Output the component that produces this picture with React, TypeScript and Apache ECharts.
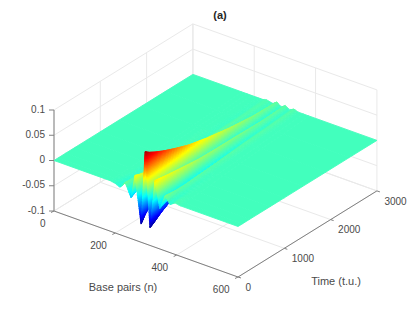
import React, { useEffect, useRef } from "react";
import * as echarts from "echarts";

const baseTicks = [0, 200, 400, 600];
const timeTicks = [0, 1000, 2000, 3000];
const ampTicks = [-0.1, -0.05, 0, 0.05, 0.1];
const ampLabels = ["-0.1", "-0.05", "0", "0.05", "0.1"];

// Surface nodes: each column follows one crest or trough of the wave.
const columnBase = [0, 183, 200, 215, 232, 251, 264, 284, 297, 313, 329, 345, 362, 378, 395, 412, 600];
const columnDriftGain = [0, 1, 1, 1, 1, 1, 1, 1, 1, 1.1, 1.2, 1.3, 1.43, 1.5, 1.5, 1.5, 0];
const rowTime = [0, 100, 250, 450, 700, 1000, 1400, 1900, 2400, 3000];
const rowDrift = [0, -1, -2, -3, -5, -8, -11, -15, -18, -23];
const amp0 = [0, 0, -0.002, -0.006, 0.007, -0.019, 0.028, -0.064, 0.082, -0.065, 0.032, -0.02, 0.009, -0.005, 0.002, 0, 0];
const amp100 = [0, 0, -0.001, -0.004, 0.005, -0.014, 0.024, -0.05, 0.075, -0.06, 0.03, -0.016, 0.007, -0.003, 0.001, 0, 0];
const amp250 = [0, 0, 0, -0.003, 0.004, -0.01, 0.02, -0.035, 0.067, -0.05, 0.027, -0.012, 0.005, -0.002, 0, 0, 0];
const amp450 = [0, 0, 0, -0.002, 0.003, -0.007, 0.016, -0.025, 0.058, -0.04, 0.024, -0.01, 0.004, -0.001, 0, 0, 0];
const amp700 = [0, 0, 0, -0.001, 0.002, -0.005, 0.012, -0.017, 0.048, -0.03, 0.02, -0.009, 0.004, -0.001, 0, 0, 0];
const amp1000 = [0, 0, 0, 0, 0.001, -0.003, 0.008, -0.012, 0.037, -0.02, 0.015, -0.008, 0.003, 0, 0, 0, 0];
const amp1400 = [0, 0, 0, 0, 0.001, -0.002, 0.006, -0.008, 0.027, -0.014, 0.012, -0.006, 0.003, 0, 0, 0, 0];
const amp1900 = [0, 0, 0, 0, 0, -0.001, 0.004, -0.005, 0.017, -0.009, 0.009, -0.004, 0.003, 0, 0, 0, 0];
const amp2400 = [0, 0, 0, 0, 0, -0.001, 0.003, -0.003, 0.01, -0.006, 0.006, -0.003, 0.003, 0, 0, 0, 0];
const amp3000 = [0, 0, 0, 0, 0, 0, 0.002, -0.001, 0.005, -0.002, 0.004, -0.002, 0.003, 0, 0, 0, 0];
const ampRows = [amp0, amp100, amp250, amp450, amp700, amp1000, amp1400, amp1900, amp2400, amp3000];

const COLOR_MIN = -0.068;
const COLOR_MAX = 0.0865;
const FONT = "Liberation Sans";
const TEXT_COLOR = "#4a4a4a";
const AXIS_COLOR = "#808080";
const GRID_COLOR = "#e9e9e9";

const screen = (n: number, t: number, z: number) => [
  54 + 0.3067 * n + 0.0463 * t,
  211 + 0.11 * n - 0.0287 * t - (z + 0.1) * 505,
];

const jet = (z: number) => {
  const p = Math.min(1, Math.max(0, (z - COLOR_MIN) / (COLOR_MAX - COLOR_MIN)));
  const ch = (v: number) => Math.round(255 * Math.min(1, Math.max(0, v)));
  return `rgb(${ch(1.5 - Math.abs(4 * p - 3))},${ch(1.5 - Math.abs(4 * p - 2))},${ch(1.5 - Math.abs(4 * p - 1))})`;
};

const nodeBase = (col: number, row: number) => columnBase[col] + columnDriftGain[col] * rowDrift[row];

const cells: number[][] = [];
for (let r = rowTime.length - 2; r >= 0; r--) {
  for (let c = 0; c < columnBase.length - 1; c++) cells.push([c, r]);
}

type Seg = { a: number[]; b: number[]; kind: string };
const segs: Seg[] = [];
const zLo = ampTicks[0];
const zHi = ampTicks[ampTicks.length - 1];
const nMax = baseTicks[baseTicks.length - 1];
const tMax = timeTicks[timeTicks.length - 1];
baseTicks.forEach((n) => {
  segs.push({ a: [n, 0, zLo], b: [n, tMax, zLo], kind: "grid" });
  segs.push({ a: [n, tMax, zLo], b: [n, tMax, zHi], kind: "grid" });
});
timeTicks.forEach((t) => {
  segs.push({ a: [0, t, zLo], b: [nMax, t, zLo], kind: "grid" });
  segs.push({ a: [0, t, zLo], b: [0, t, zHi], kind: "grid" });
});
ampTicks.forEach((z) => {
  segs.push({ a: [0, 0, z], b: [0, tMax, z], kind: "grid" });
  segs.push({ a: [0, tMax, z], b: [nMax, tMax, z], kind: "grid" });
});
const axisSegs: Seg[] = [
  { a: [0, 0, zLo], b: [nMax, 0, zLo], kind: "axis" },
  { a: [nMax, 0, zLo], b: [nMax, tMax, zLo], kind: "axis" },
  { a: [0, 0, zLo], b: [0, 0, zHi], kind: "axis" },
];
const allSegs = [...segs, ...axisSegs];

type Tick = { p: number[]; dx: number; dy: number; lx: number; ly: number; text: string; align: string };
const ticks: Tick[] = [
  ...baseTicks.map((n) => ({ p: [n, 0, zLo], dx: -3, dy: 1.5, lx: -8.5, ly: 12.5, text: String(n), align: "right" })),
  ...timeTicks.map((t) => ({ p: [nMax, t, zLo], dx: 3, dy: 1, lx: 7.5, ly: 10.3, text: String(t), align: "left" })),
  ...ampTicks.map((z, i) => ({ p: [0, 0, z], dx: -5, dy: 0, lx: -9, ly: -1, text: ampLabels[i], align: "right" })),
];

export default function App() {
  const ref = useRef<HTMLDivElement>(null);
  useEffect(() => {
    const chart = echarts.init(ref.current!, undefined, { renderer: "svg" });
    chart.setOption({
      animation: false,
      title: {
        text: "(a)",
        left: 215,
        top: 4,
        textAlign: "center",
        textStyle: { fontFamily: FONT, fontSize: 11, fontWeight: "bold", color: "#262626" },
      },
      grid: { left: 0, right: 0, top: 0, bottom: 0 },
      xAxis: { type: "value", min: 0, max: 415, show: false },
      yAxis: { type: "value", min: 0, max: 312, inverse: true, show: false },
      series: [
        {
          type: "custom",
          coordinateSystem: "cartesian2d",
          silent: true,
          clip: false,
          data: allSegs.map((_, i) => [i, 0]),
          renderItem: (params: any, api: any) => {
            const s = allSegs[api.value(0)];
            const A = api.coord(screen(s.a[0], s.a[1], s.a[2]));
            const B = api.coord(screen(s.b[0], s.b[1], s.b[2]));
            return {
              type: "line",
              shape: { x1: A[0], y1: A[1], x2: B[0], y2: B[1] },
              style: { stroke: s.kind === "axis" ? AXIS_COLOR : GRID_COLOR, lineWidth: 1 },
            };
          },
        },
        {
          type: "custom",
          coordinateSystem: "cartesian2d",
          silent: true,
          clip: false,
          data: ticks.map((_, i) => [i, 0]),
          renderItem: (params: any, api: any) => {
            const k = ticks[api.value(0)];
            const [x, y] = api.coord(screen(k.p[0], k.p[1], k.p[2]));
            return {
              type: "group",
              children: [
                {
                  type: "line",
                  shape: { x1: x, y1: y, x2: x + k.dx, y2: y + k.dy },
                  style: { stroke: AXIS_COLOR, lineWidth: 1 },
                },
                {
                  type: "text",
                  style: {
                    text: k.text,
                    x: x + k.lx,
                    y: y + k.ly,
                    align: k.align,
                    verticalAlign: "middle",
                    fontFamily: FONT,
                    fontSize: 10,
                    fill: TEXT_COLOR,
                  },
                },
              ],
            };
          },
        },
        {
          type: "custom",
          coordinateSystem: "cartesian2d",
          silent: true,
          clip: false,
          data: cells,
          renderItem: (params: any, api: any) => {
            const c = api.value(0);
            const r = api.value(1);
            const corner = (cc: number, rr: number) => ({
              n: nodeBase(cc, rr),
              t: rowTime[rr],
              z: ampRows[rr][cc],
            });
            const q00 = corner(c, r);
            const q10 = corner(c + 1, r);
            const q01 = corner(c, r + 1);
            const q11 = corner(c + 1, r + 1);
            const flat = [q00, q10, q01, q11].every((q) => q.z === 0);
            const su = flat ? 1 : Math.max(3, Math.ceil(Math.max(Math.abs(q10.z - q00.z), Math.abs(q11.z - q01.z)) / 0.003));
            const sv = flat ? 1 : Math.max(2, Math.ceil(Math.max(Math.abs(q01.z - q00.z), Math.abs(q11.z - q10.z), (q01.t - q00.t) / 60000) / 0.0015));
            const at = (u: number, v: number) => {
              const mix = (k: "n" | "t" | "z") =>
                (1 - u) * (1 - v) * q00[k] + u * (1 - v) * q10[k] + (1 - u) * v * q01[k] + u * v * q11[k];
              return { n: mix("n"), t: mix("t"), z: mix("z") };
            };
            const children: any[] = [];
            for (let j = sv - 1; j >= 0; j--) {
              for (let i = 0; i < su; i++) {
                const pts = [
                  at(i / su, j / sv),
                  at((i + 1) / su, j / sv),
                  at((i + 1) / su, (j + 1) / sv),
                  at(i / su, (j + 1) / sv),
                ];
                const mean = pts.reduce((acc, q) => acc + q.z, 0) / 4;
                const col = jet(mean);
                children.push({
                  type: "polygon",
                  shape: { points: pts.map((q) => api.coord(screen(q.n, q.t, q.z))) },
                  style: { fill: col, stroke: col, lineWidth: 0.9 },
                });
              }
            }
            return { type: "group", children };
          },
        },
      ],
      graphic: [
        {
          type: "text",
          style: {
            text: "Base pairs (n)",
            x: 123,
            y: 287,
            align: "center",
            verticalAlign: "middle",
            fontFamily: FONT,
            fontSize: 11,
            fill: TEXT_COLOR,
          },
        },
        {
          type: "text",
          style: {
            text: "Time (t.u.)",
            x: 336,
            y: 281,
            align: "center",
            verticalAlign: "middle",
            fontFamily: FONT,
            fontSize: 11,
            fill: TEXT_COLOR,
          },
        },
      ],
    });
    return () => chart.dispose();
  }, []);
  return (
    <div ref={ref} style={{ position: "absolute", left: 0, top: 0, width: 415, height: 312, background: "#fff" }} />
  );
}
